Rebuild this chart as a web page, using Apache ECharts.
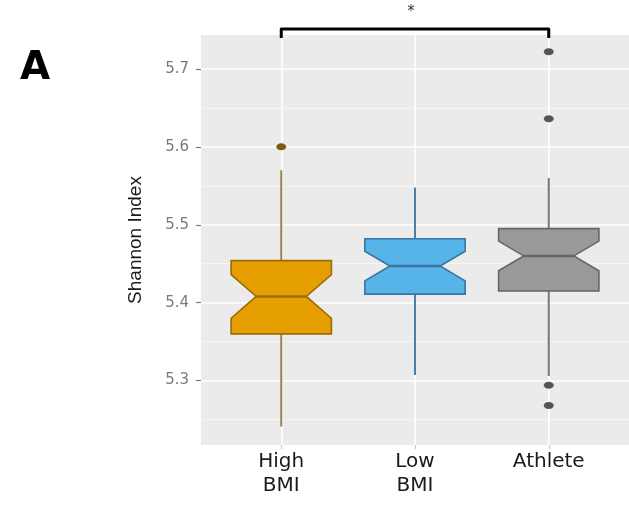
<!DOCTYPE html>
<html>
<head>
<meta charset="utf-8">
<script src="https://cdn.jsdelivr.net/npm/echarts@6/dist/echarts.min.js"></script>
<style>
  html, body { margin: 0; padding: 0; background: #ffffff; }
  #chart { width: 629px; height: 505px; }
</style>
</head>
<body>
<div id="chart"></div>
<script>
// ---- data ----
const categories = ['High\nBMI', 'Low\nBMI', 'Athlete'];
const whiskerLow  = [5.241, 5.307, 5.306];
const q1          = [5.360, 5.411, 5.415];
const median      = [5.408, 5.447, 5.460];
const q3          = [5.454, 5.482, 5.495];
const whiskerHigh = [5.570, 5.548, 5.560];
const notchHalf   = [0.028, 0.019, 0.019];
const outlierGroup = [0, 2, 2, 2, 2];
const outlierValue = [5.600, 5.722, 5.636, 5.294, 5.268];
const yTicks      = [5.3, 5.4, 5.5, 5.6, 5.7];
const yMinorTicks = [5.25, 5.35, 5.45, 5.55, 5.65];
const xTicks      = [1, 2, 3];
const sigPair  = [1, 3];
const sigLabel = '*';

// ---- styles ----
const fills    = ['#E69F00', '#56B4E9', '#999999'];
const borders  = ['#9c6a08', '#3a74a0', '#666666'];
const whiskers = ['#9a8450', '#4c7ea6', '#777777'];
const pointCol = ['#7d5c16', '#3a74a0', '#555555'];

const Y_MIN = 5.2173, Y_MAX = 5.7436;

const boxData = categories.map((c, i) => [i + 1, whiskerLow[i], q1[i], median[i], q3[i], whiskerHigh[i], notchHalf[i], i]);
const outlierData = outlierValue.map((v, k) => ({ value: [outlierGroup[k] + 1, v], itemStyle: { color: pointCol[outlierGroup[k]], opacity: 1 } }));

function renderBox(params, api) {
  const x = api.value(0);
  const lo = api.value(1), b1 = api.value(2), md = api.value(3), b3 = api.value(4), hi = api.value(5);
  const nh = api.value(6), idx = api.value(7);
  const hw = 0.375, ind = 0.1875;
  const P = (xx, yy) => api.coord([xx, yy]);
  const pts = [
    P(x - hw, b3), P(x - hw, md + nh), P(x - hw + ind, md), P(x - hw, md - nh), P(x - hw, b1),
    P(x + hw, b1), P(x + hw, md - nh), P(x + hw - ind, md), P(x + hw, md + nh), P(x + hw, b3)
  ];
  const wc = whiskers[idx];
  const c0 = P(x, hi), c1 = P(x, b3), c2 = P(x, b1), c3 = P(x, lo);
  const m0 = P(x - hw + ind, md), m1 = P(x + hw - ind, md);
  return {
    type: 'group',
    children: [
      { type: 'line', shape: { x1: c0[0], y1: c0[1], x2: c1[0], y2: c1[1] }, style: { stroke: wc, lineWidth: 2 } },
      { type: 'line', shape: { x1: c2[0], y1: c2[1], x2: c3[0], y2: c3[1] }, style: { stroke: wc, lineWidth: 2 } },
      { type: 'polygon', shape: { points: pts }, style: { fill: fills[idx], stroke: borders[idx], lineWidth: 1.6 } },
      { type: 'line', shape: { x1: m0[0], y1: m0[1], x2: m1[0], y2: m1[1] }, style: { stroke: borders[idx], lineWidth: 2.6 } }
    ]
  };
}

function renderBracket(params, api) {
  const xa = api.value(0), xb = api.value(1);
  const top = Y_MAX + 0.0077, foot = Y_MAX - 0.0038;
  const a0 = api.coord([xa, foot]), a1 = api.coord([xa, top]);
  const b1 = api.coord([xb, top]), b0 = api.coord([xb, foot]);
  const mid = api.coord([(xa + xb) / 2, top]);
  return {
    type: 'group',
    children: [
      { type: 'polyline', shape: { points: [a0, a1, b1, b0] }, style: { stroke: '#000000', lineWidth: 3, fill: null, lineJoin: 'round' } },
      { type: 'text', x: mid[0] - 4, y: mid[1] - 17, style: { text: sigLabel, fill: '#333333', font: '15px "DejaVu Sans"', align: 'center', verticalAlign: 'middle' } }
    ]
  };
}

const chart = echarts.init(document.getElementById('chart'), null, { renderer: 'canvas' });
chart.setOption({
  animation: false,
  backgroundColor: '#ffffff',
  title: {
    text: 'A', left: 15, top: 44,
    textStyle: { fontFamily: 'DejaVu Sans', fontWeight: 'bold', fontSize: 39, color: '#000000' }
  },
  grid: {
    left: 201, right: 0, top: 35, bottom: 60,
    show: true, backgroundColor: '#EBEBEB', borderWidth: 0
  },
  xAxis: {
    type: 'value', min: 0.4, max: 3.6,
    axisLine: { show: false },
    axisTick: { show: true, customValues: xTicks, length: 4, lineStyle: { color: '#c8c8c8', width: 1.2 } },
    axisLabel: {
      customValues: xTicks, margin: 5,
      formatter: v => categories[Math.round(v) - 1],
      fontFamily: 'DejaVu Sans', fontSize: 20, lineHeight: 24, color: '#1a1a1a', align: 'center'
    },
    splitLine: { show: true, lineStyle: { color: '#ffffff', width: 1.6 } }
  },
  yAxis: [
    {
      type: 'value', min: Y_MIN, max: Y_MAX, position: 'left',
      name: 'Shannon Index', nameLocation: 'middle', nameGap: 56, nameRotate: 90,
      nameTextStyle: { fontFamily: '"Liberation Sans", Arial, sans-serif', fontSize: 19, color: '#1a1a1a' },
      axisLine: { show: false },
      axisTick: { show: true, customValues: yTicks, length: 5, lineStyle: { color: '#7a7a7a', width: 1.2 } },
      axisLabel: {
        customValues: yTicks, margin: 12,
        formatter: v => v.toFixed(1),
        fontFamily: 'DejaVu Sans', fontSize: 15, color: '#7a7a7a'
      },
      splitLine: { show: true, lineStyle: { color: '#ffffff', width: 1.6 } }
    },
    {
      type: 'value', min: Y_MIN, max: Y_MAX, position: 'left',
      axisLine: { show: false },
      axisTick: { show: false, customValues: yMinorTicks },
      axisLabel: { show: false, customValues: yMinorTicks },
      splitLine: { show: true, lineStyle: { color: '#f7f7f7', width: 0.8 } }
    }
  ],
  series: [
    {
      type: 'custom', name: 'box', xAxisIndex: 0, yAxisIndex: 0,
      renderItem: renderBox, data: boxData,
      encode: { x: 0, y: [1, 2, 3, 4, 5] }, z: 3
    },
    {
      type: 'scatter', name: 'outliers', xAxisIndex: 0, yAxisIndex: 0,
      symbol: 'circle', symbolSize: [10, 7], data: outlierData, z: 4
    },
    {
      type: 'custom', name: 'bracket', xAxisIndex: 0, yAxisIndex: 0, clip: false,
      renderItem: renderBracket, data: [sigPair], z: 5
    }
  ]
});
</script>
</body>
</html>
